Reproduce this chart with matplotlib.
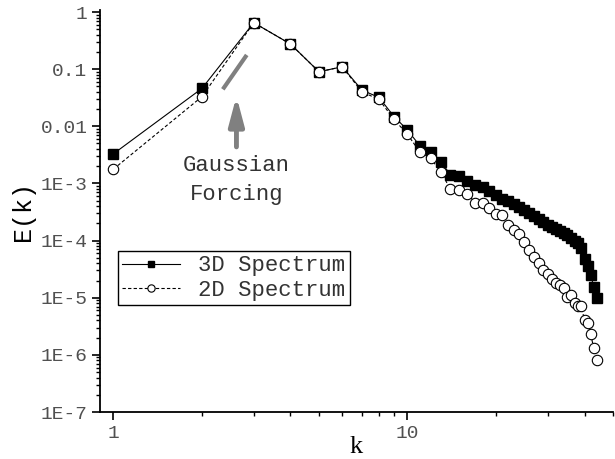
import numpy as np
import matplotlib
matplotlib.use("Agg")
import matplotlib.pyplot as plt
from matplotlib.ticker import FixedLocator, NullFormatter

plt.rcParams['font.family'] = ['Liberation Mono', 'DejaVu Sans']

# wavenumbers
k = list(range(1, 45))

# 3D spectrum E(k)
e3d = [3.3e-3, 0.046, 0.65, 0.275, 0.090, 0.110, 0.043, 0.032, 0.0148, 0.0086,
       0.0046, 0.0036, 0.0024, 1.41e-3, 1.35e-3, 1.12e-3, 9.3e-4, 8.5e-4, 7.4e-4, 6.3e-4,
       5.4e-4, 4.9e-4, 4.3e-4, 3.8e-4, 3.4e-4, 3.0e-4, 2.7e-4, 2.35e-4, 2.1e-4, 1.9e-4,
       1.74e-4, 1.57e-4, 1.45e-4, 1.35e-4, 1.26e-4, 1.11e-4, 1.0e-4, 9.1e-5, 7.4e-5, 4.7e-5,
       3.6e-5, 2.5e-5, 1.55e-5, 9.8e-6]

# 2D spectrum E(k)
e2d = [1.78e-3, 0.033, 0.65, 0.275, 0.090, 0.110, 0.040, 0.0295, 0.0132, 0.0072,
       0.0036, 0.00275, 0.00158, 7.9e-4, 7.6e-4, 6.5e-4, 4.6e-4, 4.5e-4, 3.7e-4, 2.95e-4,
       2.75e-4, 1.86e-4, 1.53e-4, 1.30e-4, 9.5e-5, 6.8e-5, 5.1e-5, 4.1e-5, 3.05e-5, 2.6e-5,
       2.14e-5, 1.82e-5, 1.66e-5, 1.48e-5, 1.05e-5, 1.12e-5, 8.1e-6, 7.2e-6, 7.2e-6, 4.0e-6,
       3.55e-6, 2.3e-6, 1.3e-6, 8.0e-7]

yticks = [1, 0.1, 0.01, 1e-3, 1e-4, 1e-5, 1e-6, 1e-7]
ylabels = ['1', '0.1', '0.01', '1E-3', '1E-4', '1E-5', '1E-6', '1E-7']

fig = plt.figure(figsize=(6.15, 4.59), dpi=100)
ax = fig.add_axes([100/615, 47/459, 513/615, 402/459])

ax.plot(k, e3d, '-', color='black', lw=0.8, marker='s', ms=6.5,
        mfc='black', mec='black', label='3D Spectrum')
ax.plot(k, e2d, '--', color='black', lw=0.8, dashes=(3, 2), marker='o', ms=7.5,
        mfc='white', mec='black', mew=0.8, label='2D Spectrum')

ax.set_xscale('log')
ax.set_yscale('log')
ax.set_xlim(0.9, 50)
ax.set_ylim(1e-7, 1.084)

ax.spines['top'].set_visible(False)
ax.spines['right'].set_visible(False)
ax.spines['left'].set_linewidth(1.3)
ax.spines['bottom'].set_linewidth(1.3)

ax.yaxis.set_major_locator(FixedLocator(yticks))
ax.set_yticklabels(ylabels)
ax.yaxis.set_minor_locator(FixedLocator([m * 10.0**e for e in range(-7, 0) for m in range(2, 10)]))
ax.yaxis.set_minor_formatter(NullFormatter())

ax.xaxis.set_major_locator(FixedLocator([1, 10]))
ax.set_xticklabels(['1', '10'])
ax.xaxis.set_minor_locator(FixedLocator([2, 3, 4, 5, 6, 7, 8, 9, 20, 30, 40, 50]))
ax.xaxis.set_minor_formatter(NullFormatter())

ax.tick_params(which='major', direction='out', length=6, width=1.2, labelsize=14,
               labelcolor='#505050', pad=3)
ax.tick_params(which='minor', direction='out', length=3, width=1.0)

ax.set_xlabel('k', fontsize=19, family='Liberation Serif', labelpad=-4)
ax.set_ylabel('E(k)', fontsize=18, labelpad=4)

# forcing annotation
ax.plot([2.355, 2.84], [0.0444, 0.177], color='#808080', lw=3, solid_capstyle='butt')
ax.annotate('', xy=(2.62, 0.0378), xytext=(2.62, 0.0039),
            arrowprops=dict(arrowstyle='-|>,head_width=0.45,head_length=1.7',
                            color='#808080', lw=3.5))
ax.text(2.62, 1.15e-3, 'Gaussian\nForcing', ha='center', va='center', fontsize=16,
        color='#333333', linespacing=1.45)

leg = ax.legend(loc='lower left', bbox_to_anchor=(0.035, 0.266), borderaxespad=0,
                fontsize=16, numpoints=1, handlelength=2.6, fancybox=False,
                framealpha=1, edgecolor='black', markerscale=0.7,
                borderpad=0.2, labelspacing=0.15, handletextpad=0.8)
leg.get_frame().set_linewidth(1.0)
for t in leg.get_texts():
    t.set_color('#333333')

fig.savefig('out.png', dpi=100)
